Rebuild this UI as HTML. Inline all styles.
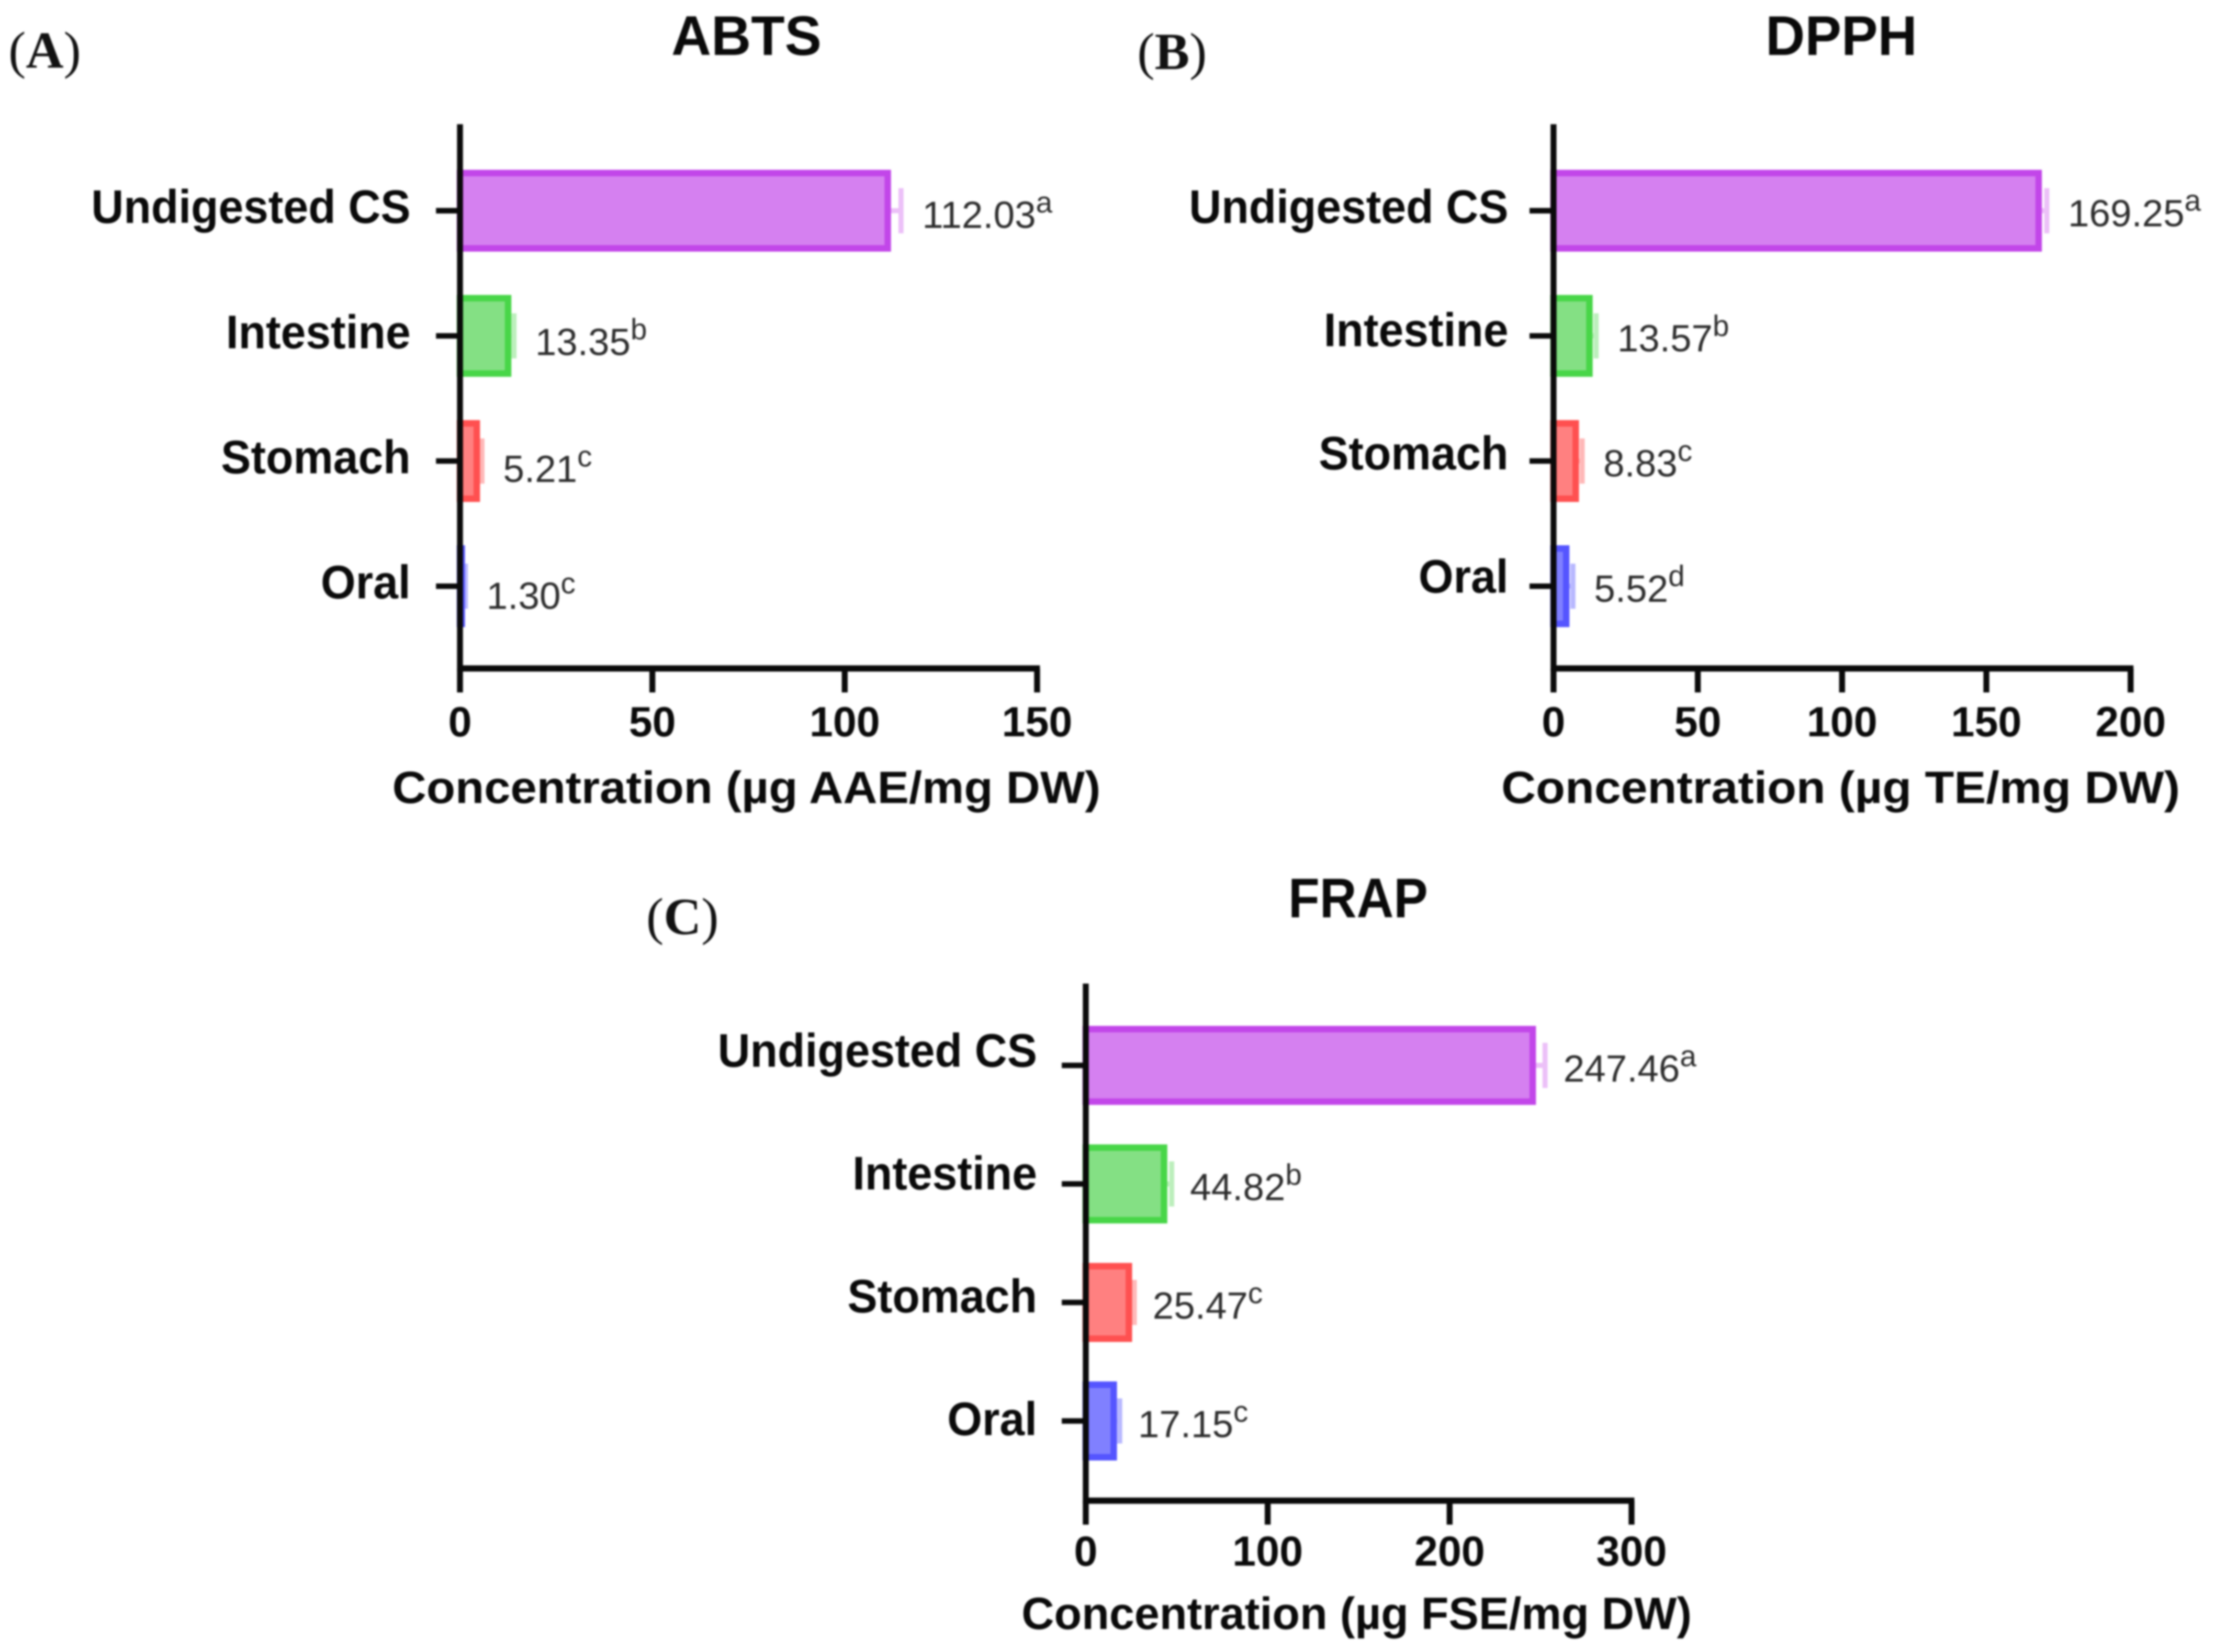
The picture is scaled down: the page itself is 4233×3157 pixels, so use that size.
<!DOCTYPE html>
<html lang="en">
<head>
<meta charset="utf-8">
<title>Antioxidant activity: ABTS, DPPH and FRAP</title>
<style>
html,body{margin:0;padding:0;background:#fff;}
#figure{display:block;width:4233px;height:3157px;filter:blur(1.8px);}
.cat{font:bold 33.5px "Liberation Sans",sans-serif;fill:#0a0a0a;}
.tick{font:bold 30px "Liberation Sans",sans-serif;fill:#0a0a0a;text-anchor:middle;}
.axt{font:bold 32px "Liberation Sans",sans-serif;fill:#0a0a0a;text-anchor:middle;}
.ttl{font:bold 39.5px "Liberation Sans",sans-serif;fill:#0a0a0a;text-anchor:middle;}
.val{font:27px "Liberation Sans",sans-serif;fill:#2c2c2c;}
.pl{font:37px "Liberation Serif",serif;fill:#111;}
</style>
</head>
<body>
<svg id="figure" xmlns="http://www.w3.org/2000/svg" viewBox="0 0 1569.8 1170.7"></svg>
<script>
const categories = ["Undigested CS", "Intestine", "Stomach", "Oral"];
const abtsValues = [112.03, 13.35, 5.21, 1.30];
const abtsErrors = [2.6, 0.7, 0.5, 0.1];
const abtsLetters = ["a", "b", "c", "c"];
const abtsTicks = [0, 50, 100, 150];
const dpphValues = [169.25, 13.57, 8.83, 5.52];
const dpphErrors = [1.7, 1.2, 1.1, 1.2];
const dpphLetters = ["a", "b", "c", "d"];
const dpphTicks = [0, 50, 100, 150, 200];
const frapValues = [247.46, 44.82, 25.47, 17.15];
const frapErrors = [5.0, 2.4, 1.2, 1.5];
const frapLetters = ["a", "b", "c", "c"];
const frapTicks = [0, 100, 200, 300];

const barFills = ["#d580f0", "#84e084", "#ff8080", "#8080ff"];
const barStrokes = ["#c246e9", "#48d648", "#ff5050", "#5555ff"];
const errStrokes = ["#ecc0f8", "#bcefbc", "#ffb8b8", "#b8b8ff"];

const NS = "http://www.w3.org/2000/svg";
const root = document.getElementById("figure");

function make(tag, parent, cls) {
  const el = document.createElementNS(NS, tag);
  if (cls) el.setAttribute("class", cls);
  parent.appendChild(el);
  return el;
}
function setAll(el, attrs) {
  for (const k in attrs) el.setAttribute(k, attrs[k]);
}
function squeeze(el, ratio) {
  const w = el.getComputedTextLength();
  el.setAttribute("textLength", w * ratio);
  el.setAttribute("lengthAdjust", "spacingAndGlyphs");
}

function drawPanel(p) {
  const g = make("g", root);
  
  

  const x = v => p.left + (v - p.ticks[0]) / (p.ticks[p.ticks.length - 1] - p.ticks[0]) * (p.right - p.left);
  const y = i => p.firstRow + i * p.rowStep;
  const labelY = i => p.labelFirst + i * p.labelStep;

  // panel letter
  const pl = make("text", g, "pl");
  setAll(pl, {x: p.letterX, y: p.letterY});
  
  
  const t1 = make("tspan", pl); t1.textContent = "(";
  const t2 = make("tspan", pl); t2.textContent = p.letter; t2.setAttribute("font-weight", "bold");
  const t3 = make("tspan", pl); t3.textContent = ")";

  // title
  const title = make("text", g, "ttl");
  setAll(title, {x: p.titleX, y: p.titleY});
  title.textContent = p.key.toUpperCase();
  
  
  squeeze(title, p.titleRatio);

  // bars and error bars
  p.values.forEach((v, i) => {
    const xEnd = x(v);
    const errEnd = x(v + p.errors[i]);

    const stem = make("line", g);
    setAll(stem, {x1: xEnd, x2: errEnd, y1: y(i), y2: y(i), stroke: errStrokes[i], "stroke-width": 3.6});
    
    

    const cap = make("line", g);
    setAll(cap, {x1: errEnd, x2: errEnd, y1: y(i) - 16, y2: y(i) + 16, stroke: errStrokes[i], "stroke-width": 3.6});
    
    

    const bar = make("rect", g);
    setAll(bar, {
      x: p.left, y: y(i) - p.barHalf + 2.3,
      width: Math.max(xEnd - p.left - 2.3, 0.4), height: 2 * p.barHalf - 4.6,
      fill: barFills[i], stroke: barStrokes[i], "stroke-width": 4.6
    });
    
    

    const val = make("text", g, "val");
    setAll(val, {x: errEnd + p.valueGap, y: y(i) + p.valueDy + i * p.valueDrift});
    
    
    const num = make("tspan", val);
    num.textContent = v.toFixed(2);
    const sup = make("tspan", val);
    sup.textContent = p.letters[i];
    setAll(sup, {dy: -11, "font-size": 21});

    const lab = make("text", g, "cat");
    lab.textContent = categories[i];
    
    
    const natural = lab.getComputedTextLength();
    setAll(lab, {x: p.labelRight - natural * 0.95, y: labelY(i)});
    squeeze(lab, 0.95);

    const tk = make("line", g);
    setAll(tk, {x1: p.left - 17, x2: p.left, y1: y(i), y2: y(i), stroke: "#0a0a0a", "stroke-width": 3.9});
    
    
  });

  // axes
  const yAxis = make("line", g);
  setAll(yAxis, {x1: p.left, x2: p.left, y1: p.top, y2: p.bottom + 2, stroke: "#0a0a0a", "stroke-width": 4.2});
  
  

  const xAxis = make("line", g);
  setAll(xAxis, {x1: p.left - 2, x2: p.right + 2, y1: p.bottom, y2: p.bottom, stroke: "#0a0a0a", "stroke-width": 4.4});
  
  

  p.ticks.forEach(t => {
    const tk = make("line", g);
    setAll(tk, {x1: x(t), x2: x(t), y1: p.bottom, y2: p.bottom + 17, stroke: "#0a0a0a", "stroke-width": 4.2});
    
    

    const tl = make("text", g, "tick");
    setAll(tl, {x: x(t), y: p.bottom + p.tickLabelDy});
    tl.textContent = t;
    
    
  });

  const axt = make("text", g, "axt");
  setAll(axt, {x: p.axisTitleX, y: p.axisTitleY, textLength: p.axisTitleW, lengthAdjust: "spacingAndGlyphs"});
  axt.textContent = p.axisTitle;
  
  
}

drawPanel({
  key: "abts", letter: "A", letterX: 6, letterY: 48,
  values: abtsValues, errors: abtsErrors, letters: abtsLetters, ticks: abtsTicks,
  left: 326, right: 735, top: 88, bottom: 473.7, tickLabelDy: 48,
  firstRow: 149.3, rowStep: 88.7, barHalf: 29,
  valueGap: 15, valueDy: 12.2, valueDrift: 1.3,
  labelFirst: 158, labelStep: 88.7, labelRight: 291,
  titleX: 529, titleY: 39, titleRatio: 0.99,
  axisTitle: "Concentration (µg AAE/mg DW)", axisTitleX: 529, axisTitleY: 569, axisTitleW: 502
});
drawPanel({
  key: "dpph", letter: "B", letterX: 806, letterY: 49,
  values: dpphValues, errors: dpphErrors, letters: dpphLetters, ticks: dpphTicks,
  left: 1101, right: 1510, top: 88, bottom: 473.7, tickLabelDy: 48,
  firstRow: 149.3, rowStep: 88.7, barHalf: 29,
  valueGap: 15, valueDy: 11, valueDrift: 0,
  labelFirst: 158, labelStep: 87.3, labelRight: 1069,
  titleX: 1305, titleY: 39, titleRatio: 0.98,
  axisTitle: "Concentration (µg TE/mg DW)", axisTitleX: 1304.5, axisTitleY: 569, axisTitleW: 481
});
drawPanel({
  key: "frap", letter: "C", letterX: 458, letterY: 662,
  values: frapValues, errors: frapErrors, letters: frapLetters, ticks: frapTicks,
  left: 769.5, right: 1156.3, top: 697, bottom: 1063.5, tickLabelDy: 46,
  firstRow: 755, rowStep: 84, barHalf: 28,
  valueGap: 13, valueDy: 11.5, valueDrift: 0,
  labelFirst: 756, labelStep: 87, labelRight: 735,
  titleX: 962.5, titleY: 650, titleRatio: 0.92,
  axisTitle: "Concentration (µg FSE/mg DW)", axisTitleX: 961.5, axisTitleY: 1154.5, axisTitleW: 475
});
</script>
</body>
</html>
